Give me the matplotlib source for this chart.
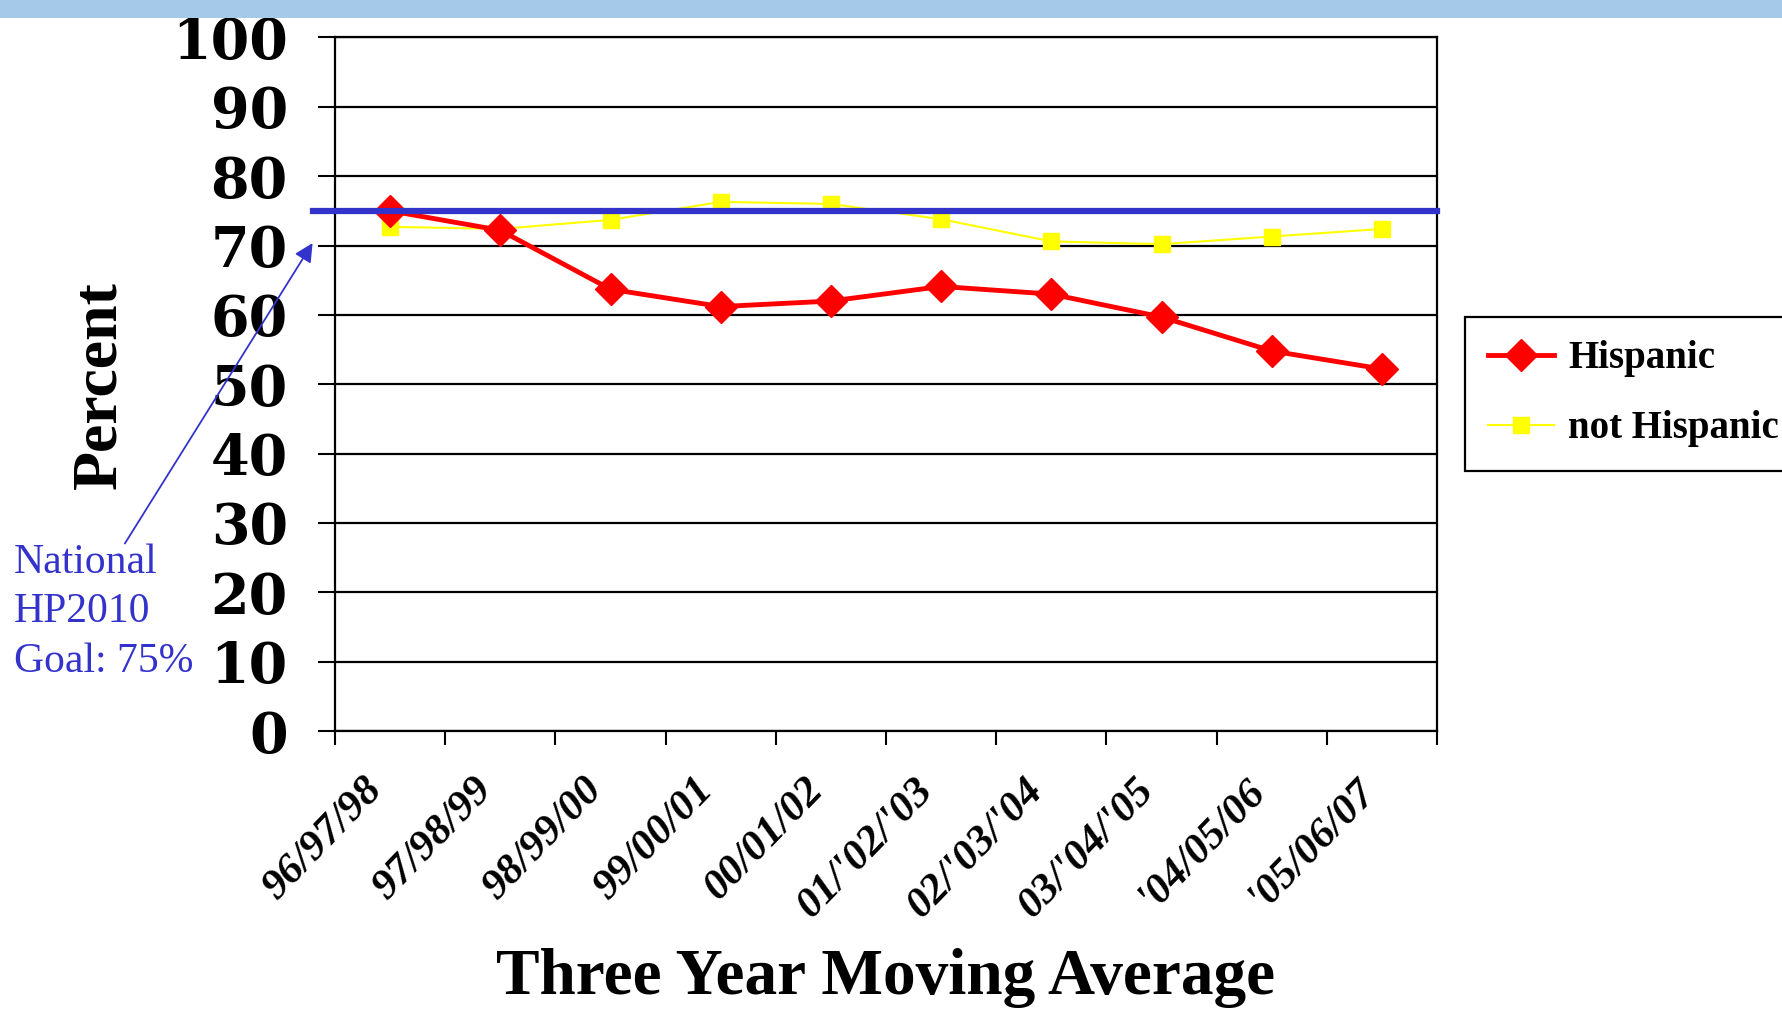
import matplotlib
matplotlib.use('Agg')
import matplotlib.pyplot as plt
import matplotlib.transforms as mtransforms
from matplotlib.patches import Rectangle
from matplotlib.font_manager import FontProperties

# three year moving averages
periods = ['96/97/98', '97/98/99', '98/99/00', '99/00/01', '00/01/02',
           "01/'02/'03", "02/'03/'04", "03/'04/'05", "'04/05/06", "'05/06/07"]
hispanic = [75.0, 72.2, 63.7, 61.2, 62.0, 64.1, 63.0, 59.7, 54.8, 52.2]
not_hispanic = [72.7, 72.4, 73.7, 76.3, 76.0, 73.8, 70.6, 70.2, 71.3, 72.4]

# national HP2010 goal
goal = 75
goal_text = 'National\nHP2010\nGoal: 75%'

y_ticks = list(range(0, 101, 10))

blue = '#3333CC'
serif = 'Liberation Serif'

fig = plt.figure(figsize=(17.82, 10.10), dpi=100)
fig.patch.set_facecolor('white')

# light blue band at the top of the slide
fig.patches.append(Rectangle((0, 1 - 18/1010.), 1, 18/1010., transform=fig.transFigure,
                             facecolor='#A5C9E9', edgecolor='none', zorder=0))

ax = fig.add_axes([335/1782., 1 - 731/1010., 1102/1782., 693.5/1010.])

x = list(range(len(periods)))

ax.plot(x, hispanic, color='red', lw=3.5, marker='D', ms=16, label='Hispanic', zorder=4)
ax.plot(x, not_hispanic, color='#FFFF00', lw=1.5, marker='s', ms=11, label='not Hispanic', zorder=3)

# goal line, starts a bit left of the axis
ax.plot([-0.7, len(periods) - 0.5], [goal, goal], color=blue, lw=4.5, zorder=5, clip_on=False)

ax.set_xlim(-0.5, len(periods) - 0.5)
ax.set_ylim(0, 100)

ax.set_yticks(y_ticks)
ax.set_yticklabels([str(t) for t in y_ticks])
ax.yaxis.grid(True, color='black', lw=1.6)
ax.set_axisbelow(True)

# ticks between categories
ax.set_xticks([i - 0.5 for i in range(len(periods) + 1)])
ax.set_xticklabels([])
ax.tick_params(axis='x', direction='out', length=10, width=1.5)
ax.tick_params(axis='y', direction='out', length=12, width=1.5, pad=22)

# category labels (bold italic, slanted), drawn as plain texts under each category
xfont = FontProperties(family=serif, weight='bold', style='italic', size=31)
trans = mtransforms.blended_transform_factory(ax.transData, ax.transAxes)
for i, p in enumerate(periods):
    ax.text(i, -0.058, p, transform=trans, rotation=46, ha='right', va='top',
            fontproperties=xfont, clip_on=False)

yfont = FontProperties(family='DejaVu Serif', weight='bold', size=40)
for lbl in ax.get_yticklabels():
    lbl.set_fontproperties(yfont)

for s in ax.spines.values():
    s.set_linewidth(1.6)
    s.set_color('black')

fig.text(100/1782., 1 - 385/1010., 'Percent', rotation=90, ha='center', va='center',
         fontfamily=serif, fontweight='bold', fontsize=46)
fig.text(886/1782., 1 - 978/1010., 'Three Year Moving Average', ha='center', va='center',
         fontfamily=serif, fontweight='bold', fontsize=47)

# annotation pointing at the goal line
fig.text(14/1782., 1 - 612/1010., goal_text, ha='left', va='center', color=blue,
         fontfamily=serif, fontsize=30, linespacing=1.38)
ax.annotate('', xy=(-0.69, 70.7), xytext=(-2.42, 26.7), annotation_clip=False,
            arrowprops=dict(arrowstyle='-|>', color=blue, lw=1.3, mutation_scale=28))

leg = ax.legend(loc='upper left', bbox_to_anchor=(1465/1782., 1 - 317/1010.),
                bbox_transform=fig.transFigure, borderaxespad=0, fancybox=False,
                edgecolor='black', framealpha=1, handlelength=1.7, handletextpad=0.35,
                labelspacing=0.85, borderpad=0.6,
                prop={'family': serif, 'weight': 'bold', 'size': 28})
leg.get_frame().set_linewidth(1.6)

fig.savefig('out.png', dpi=100)
